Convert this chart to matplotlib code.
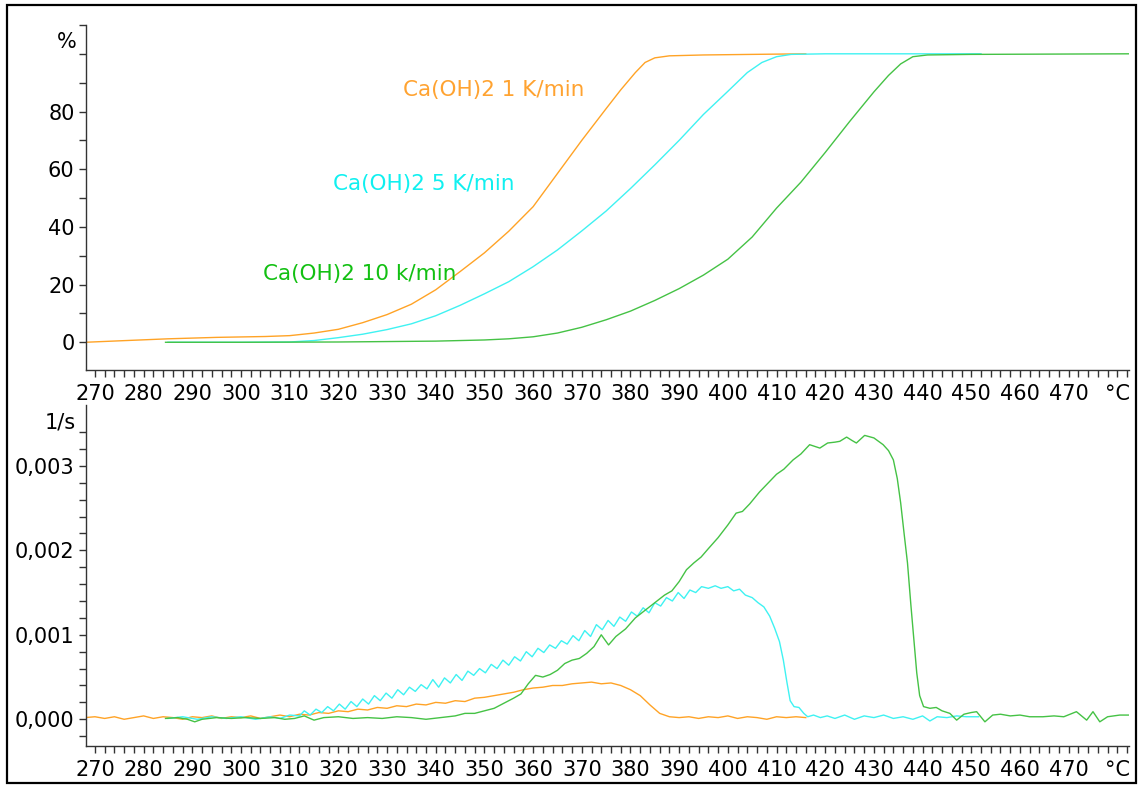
import numpy as np
import matplotlib
matplotlib.use("Agg")
import matplotlib.pyplot as plt
from matplotlib.patches import Rectangle
from matplotlib.ticker import MultipleLocator, FixedLocator

# ---- conversion curves (T in degC, conversion in %) ----
conv_1k = np.array([
    [268, 0.0], [275, 0.5], [285, 1.2], [295, 1.7], [305, 2.0], [310, 2.3],
    [315, 3.2], [320, 4.5], [325, 6.8], [330, 9.6], [335, 13.2], [340, 18.2],
    [345, 24.5], [350, 31.0], [355, 38.5], [360, 47.0], [365, 58.5], [370, 70.0],
    [375, 81.0], [378, 87.5], [381, 93.5], [383, 97.0], [385, 98.6], [388, 99.3],
    [395, 99.6], [405, 99.8], [416, 100.0]]).T

conv_5k = np.array([
    [285, 0.0], [300, 0.0], [310, 0.1], [315, 0.6], [320, 1.6], [325, 2.8],
    [330, 4.4], [335, 6.4], [340, 9.2], [345, 12.8], [350, 16.8], [355, 21.0],
    [360, 26.2], [365, 32.0], [370, 38.6], [375, 45.5], [380, 53.3], [385, 61.5],
    [390, 70.0], [395, 79.0], [400, 87.0], [404, 93.5], [407, 97.0], [410, 99.0],
    [413, 99.8], [420, 100.0], [452, 100.0]]).T

conv_10k = np.array([
    [284.5, 0.0], [300, 0.0], [320, 0.1], [340, 0.4], [350, 0.8], [355, 1.2],
    [360, 1.9], [365, 3.2], [370, 5.2], [375, 7.8], [380, 10.8], [385, 14.5],
    [390, 18.6], [395, 23.3], [400, 28.8], [405, 36.5], [410, 46.5], [415, 55.5],
    [420, 65.8], [425, 76.5], [430, 86.8], [433, 92.5], [435.5, 96.5], [438, 99.0],
    [441, 99.6], [450, 99.8], [482.5, 100.0]]).T

# ---- rate curves (T in degC, rate in 1e-3 1/s) ----
rate_1k = np.array([
    [268, 0.02], [270, 0.03], [272, 0.01], [274, 0.03], [276, 0.00], [278, 0.02],
    [280, 0.04], [282, 0.01], [284, 0.03], [286, 0.02], [288, 0.00], [290, 0.03],
    [292, 0.02], [294, 0.04], [296, 0.01], [298, 0.03], [300, 0.02], [302, 0.04],
    [304, 0.01], [306, 0.03], [308, 0.05], [310, 0.03], [312, 0.06], [314, 0.05],
    [316, 0.08], [318, 0.07], [320, 0.10], [322, 0.09], [324, 0.12], [326, 0.11],
    [328, 0.14], [330, 0.13], [332, 0.16], [334, 0.15], [336, 0.18], [338, 0.17],
    [340, 0.20], [342, 0.19], [344, 0.22], [346, 0.21], [348, 0.25], [350, 0.26],
    [352, 0.28], [354, 0.30], [356, 0.32], [358, 0.35], [360, 0.37], [362, 0.38],
    [364, 0.40], [366, 0.40], [368, 0.42], [370, 0.43], [372, 0.44], [374, 0.42],
    [376, 0.43], [378, 0.40], [380, 0.35], [382, 0.28], [384, 0.17], [386, 0.07],
    [388, 0.03], [390, 0.02], [392, 0.03], [394, 0.01], [396, 0.03], [398, 0.02],
    [400, 0.04], [402, 0.01], [404, 0.03], [406, 0.02], [408, 0.00], [410, 0.03],
    [412, 0.02], [414, 0.03], [416, 0.02]]).T

rate_5k = np.array([
    [285, 0.01], [288, 0.03], [291, 0.00], [294, 0.03], [297, 0.01], [300, 0.03],
    [303, 0.00], [306, 0.03], [308, 0.01], [310, 0.05], [312, 0.04], [313, 0.10],
    [314.2, 0.05], [315.4, 0.12], [316.6, 0.08], [317.8, 0.15], [319, 0.10],
    [320.2, 0.18], [321.4, 0.12], [322.6, 0.21], [323.8, 0.15], [325, 0.24],
    [326.2, 0.18], [327.4, 0.28], [328.6, 0.22], [329.8, 0.31], [331, 0.25],
    [332.2, 0.35], [333.4, 0.29], [334.6, 0.38], [335.8, 0.33], [337, 0.41],
    [338.2, 0.36], [339.4, 0.47], [340.6, 0.38], [341.8, 0.49], [343, 0.43],
    [344.2, 0.53], [345.4, 0.46], [346.6, 0.57], [347.8, 0.52], [349, 0.60],
    [350.2, 0.55], [351.4, 0.65], [352.6, 0.60], [353.8, 0.70], [355, 0.64],
    [356.2, 0.74], [357.4, 0.69], [358.6, 0.80], [359.8, 0.74], [361, 0.84],
    [362.2, 0.79], [363.4, 0.88], [364.6, 0.84], [365.8, 0.93], [367, 0.89],
    [368.2, 0.99], [369.4, 0.93], [370.6, 1.05], [371.8, 0.98], [373, 1.12],
    [374.2, 1.06], [375.4, 1.17], [376.6, 1.10], [377.8, 1.21], [379, 1.16],
    [380.2, 1.27], [381.4, 1.22], [382.6, 1.32], [383.8, 1.26], [385, 1.38],
    [386.2, 1.34], [387.4, 1.44], [388.6, 1.40], [389.8, 1.50], [391, 1.43],
    [392.2, 1.53], [393.4, 1.50], [394.6, 1.57], [396, 1.55], [397.4, 1.58],
    [398.6, 1.55], [400, 1.57], [401.2, 1.52], [402.4, 1.54], [403.6, 1.47],
    [405, 1.44], [406.2, 1.38], [407.4, 1.33], [408.6, 1.22], [409.6, 1.08],
    [410.6, 0.92], [411.4, 0.70], [412.1, 0.45], [412.8, 0.22], [413.6, 0.15],
    [414.6, 0.14], [415.6, 0.07], [416.4, 0.03], [417.6, 0.05], [419, 0.02],
    [420.4, 0.04], [422, 0.01], [424, 0.05], [426, 0.00], [428, 0.04], [430, 0.02],
    [432, 0.05], [434, 0.01], [436, 0.03], [438, 0.00], [440, 0.04], [441.5, -0.02],
    [443, 0.03], [445, 0.02], [447, 0.04], [449, 0.03], [451.5, 0.03]]).T

rate_10k = np.array([
    [284.5, 0.01], [287, 0.02], [289, 0.00], [290.5, -0.03], [292, 0.00], [295, 0.02],
    [298, 0.01], [301, 0.02], [304, 0.01], [307, 0.02], [309, 0.00], [311, 0.01],
    [313, 0.04], [315, -0.01], [317, 0.02], [320, 0.03], [323, 0.01], [326, 0.02],
    [329, 0.01], [332, 0.03], [335, 0.02], [338, 0.00], [341, 0.02], [344, 0.04],
    [346, 0.07], [348, 0.07], [350, 0.10], [352, 0.13], [354, 0.19], [356, 0.25],
    [357.5, 0.30], [359, 0.42], [360.5, 0.52], [362, 0.50], [363.5, 0.53], [365, 0.58],
    [366.5, 0.66], [368, 0.70], [369.5, 0.72], [371, 0.78], [372.5, 0.86], [374, 1.00],
    [375.5, 0.88], [377, 0.98], [379, 1.07], [381, 1.20], [383, 1.29], [385, 1.38],
    [387, 1.47], [388.5, 1.52], [390, 1.63], [391.5, 1.77], [393, 1.85], [394.5, 1.92],
    [396, 2.02], [398, 2.15], [400, 2.30], [401.7, 2.44], [403, 2.46], [404.5, 2.55],
    [406.5, 2.69], [408, 2.78], [410, 2.90], [411.5, 2.96], [413.4, 3.07], [415, 3.14],
    [416.8, 3.25], [418.9, 3.21], [420.5, 3.27], [422, 3.28], [423, 3.29], [424.4, 3.34],
    [425.5, 3.30], [426.4, 3.27], [428.1, 3.36], [430, 3.33], [431.9, 3.25], [433, 3.18],
    [434, 3.07], [434.8, 2.85], [435.5, 2.56], [436.2, 2.20], [436.9, 1.85], [437.6, 1.35],
    [438.2, 0.95], [438.8, 0.55], [439.4, 0.28], [440.2, 0.15], [441.5, 0.13], [442.8, 0.14],
    [444, 0.10], [445.6, 0.07], [447, -0.01], [448.5, 0.06], [450, 0.08], [451.1, 0.09],
    [452.8, -0.03], [454.4, 0.05], [456, 0.06], [458, 0.04], [460, 0.05], [462, 0.03],
    [464.7, 0.03], [467, 0.04], [469, 0.03], [471.6, 0.09], [473.7, -0.01], [475, 0.09],
    [476.4, -0.03], [478, 0.03], [480.5, 0.05], [482.5, 0.05]]).T

labels = ["Ca(OH)2 1 K/min", "Ca(OH)2 5 K/min", "Ca(OH)2 10 k/min"]
label_pos = [(333.2, 87.5), (318.9, 54.9), (304.5, 23.7)]
temp_ticks = [270, 280, 290, 300, 310, 320, 330, 340, 350, 360, 370, 380, 390,
              400, 410, 420, 430, 440, 450, 460, 470, 480]
temp_labels = [str(t) for t in temp_ticks[:-1]] + ["°C"]
conv_ticks = [0, 20, 40, 60, 80, 100]
conv_labels = ["0", "20", "40", "60", "80", ""]
rate_ticks = [0.0, 0.001, 0.002, 0.003]
rate_labels = ["0,000", "0,001", "0,002", "0,003"]

line_cols = ["#FFA326", "#3FF2F2", "#45C245"]
text_cols = ["#FFA331", "#10F0F0", "#12C012"]

fig = plt.figure(figsize=(11.38, 7.85), dpi=100)
ax1 = fig.add_axes([0.0753, 0.5287, 0.9168, 0.4395])
ax2 = fig.add_axes([0.0753, 0.0497, 0.9168, 0.4344])

for data, c in zip([conv_1k, conv_5k, conv_10k], line_cols):
    ax1.plot(data[0], data[1], color=c, lw=1.0)
for data, c in zip([rate_1k, rate_5k, rate_10k], line_cols):
    ax2.plot(data[0], data[1] * 1e-3, color=c, lw=1.0)

for txt, (tx, ty), c in zip(labels, label_pos, text_cols):
    ax1.text(tx, ty, txt, color=c, fontsize=15.5, ha="left", va="center")

ax1.set_ylim(-9.6, 110)
ax1.yaxis.set_major_locator(FixedLocator(conv_ticks))
ax1.set_yticklabels(conv_labels)
ax1.yaxis.set_minor_locator(MultipleLocator(10))
ax1.text(-0.009, 104.2, "%", transform=ax1.get_yaxis_transform(),
         ha="right", va="center", fontsize=15)

ax2.set_ylim(-0.000316, 0.00372)
ax2.yaxis.set_major_locator(FixedLocator(rate_ticks))
ax2.set_yticklabels(rate_labels)
ax2.yaxis.set_minor_locator(FixedLocator(np.arange(-0.0002, 0.00341, 0.0002)))
ax2.text(-0.009, 0.00351, "1/s", transform=ax2.get_yaxis_transform(),
         ha="right", va="center", fontsize=15)

for ax in (ax1, ax2):
    ax.set_xlim(268.1, 482.4)
    ax.xaxis.set_major_locator(FixedLocator(temp_ticks))
    ax.set_xticklabels(temp_labels)
    ax.xaxis.set_minor_locator(MultipleLocator(2))
    for s in ("top", "right"):
        ax.spines[s].set_visible(False)
    for s in ("left", "bottom"):
        ax.spines[s].set_color("#333333")
        ax.spines[s].set_linewidth(1.0)
    ax.tick_params(which="both", direction="out", length=5, width=1,
                   color="#333333", labelsize=15)
    ax.tick_params(axis="x", which="major", pad=5)
    ax.tick_params(axis="y", which="major", pad=3)
    ax.patch.set_alpha(0)

fig.patches.append(Rectangle((0.0062, 0.0025), 0.992, 0.991, transform=fig.transFigure,
                             fill=False, lw=1.6, edgecolor="black"))

fig.savefig("out.png", dpi=100)
